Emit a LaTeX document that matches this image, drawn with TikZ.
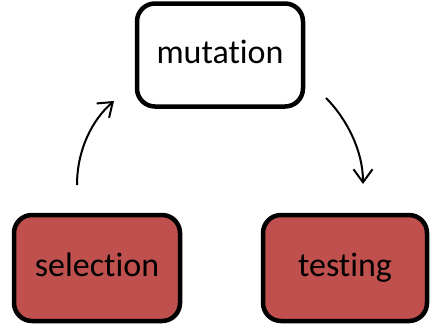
\documentclass[tikz,border=0pt]{standalone}
\usepackage{fontspec}
\setmainfont{Carlito}[Ligatures=NoCommon]
\usetikzlibrary{arrows.meta}
\definecolor{boxred}{HTML}{C0504D}
\begin{document}
\begin{tikzpicture}[x=1pt,y=-1pt,
  stage/.style={draw=black, line width=4.5pt, rounded corners=18pt, inner sep=0pt,
    font=\fontsize{34}{40}\selectfont, text height=24pt, text depth=7pt},
  flow/.style={line width=2pt, -{Straight Barb[length=13pt,width=19pt,line width=2pt]}}]
  \useasboundingbox (0,0) rectangle (430,327);
  \node[stage, fill=white, minimum width=166pt, minimum height=103pt] (mut) at (220,55) {mutation};
  \node[stage, fill=boxred, minimum width=166pt, minimum height=106pt] (sel) at (97,268) {selection};
  \node[stage, fill=boxred, minimum width=164pt, minimum height=106pt] (tst) at (345,268) {testing};
  \coordinate (s0) at (77,185);
  \coordinate (s1) at (114,101);
  \coordinate (t0) at (326,98);
  \coordinate (t1) at (363,184);
  \draw[flow] (s0) .. controls (77,150) and (92,120) .. (s1);
  \draw[flow] (t0) .. controls (346,118) and (363,150) .. (t1);
\end{tikzpicture}
\end{document}
